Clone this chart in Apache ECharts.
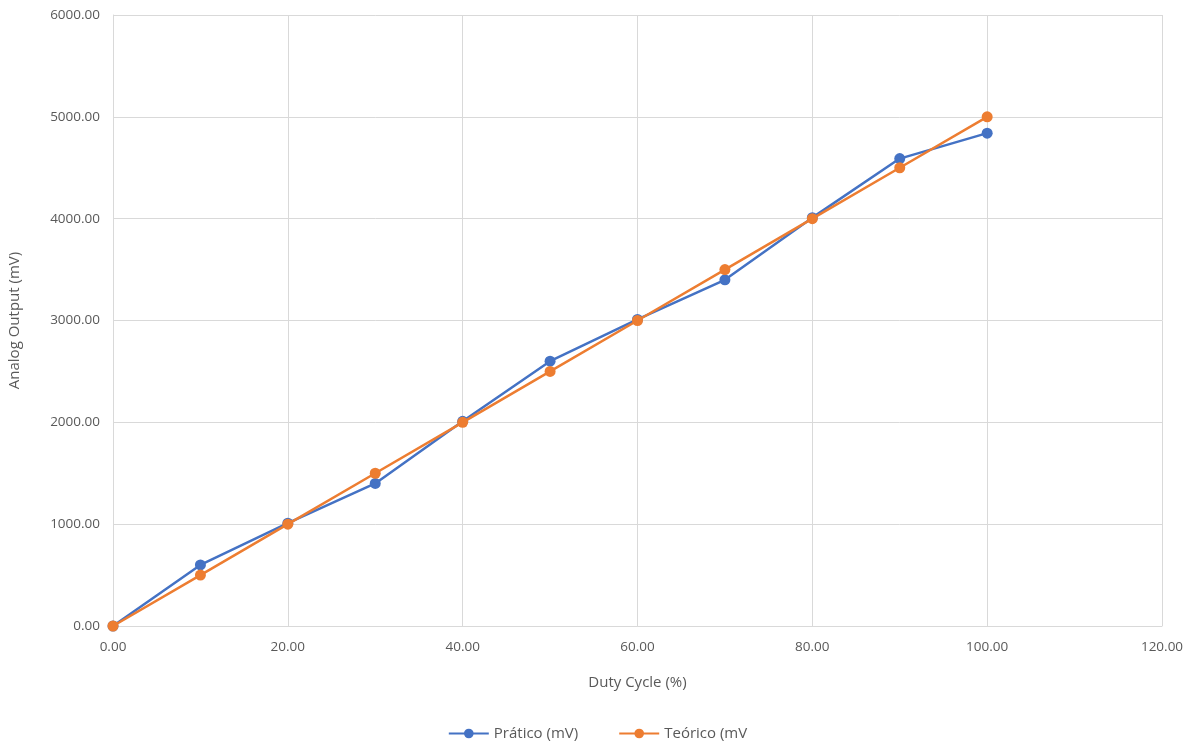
<!DOCTYPE html>
<html>
<head>
<meta charset="utf-8">
<script src="https://cdn.jsdelivr.net/npm/echarts@6/dist/echarts.min.js"></script>
<style>
  html, body { margin: 0; padding: 0; background: #fff; }
  #chart { width: 1195px; height: 747px; }
</style>
</head>
<body>
<div id="chart"></div>
<script>
// Duty cycle (%) vs. analog output (mV)
const dutyCycle = [0, 10, 20, 30, 40, 50, 60, 70, 80, 90, 100];
const pratico   = [0, 600, 1010, 1400, 2010, 2600, 3010, 3400, 4010, 4590, 4840];
const teorico   = [0, 500, 1000, 1500, 2000, 2500, 3000, 3500, 4000, 4500, 5000];
const seriesNames = ['Prático (mV)', 'Teórico (mV'];

const textColor = '#595959';
const gridColor = '#d9d9d9';
const fontFamily = '"Open Sans", "Noto Sans", sans-serif';

const pairs = (xs, ys) => xs.map((x, i) => [x, ys[i]]);

const chart = echarts.init(document.getElementById('chart'));
chart.setOption({
  animation: false,
  textStyle: { fontFamily: fontFamily, color: textColor },
  grid: { left: 113, right: 33, top: 15, bottom: 121, outerBoundsMode: 'none', containLabel: false },
  legend: {
    bottom: 1,
    left: 'center',
    itemGap: 40,
    itemWidth: 40,
    itemHeight: 12,
    textStyle: { color: textColor, fontSize: 15, fontFamily: fontFamily },
    data: seriesNames
  },
  xAxis: {
    type: 'value',
    min: 0, max: 120, interval: 20,
    name: 'Duty Cycle (%)',
    nameLocation: 'middle',
    nameGap: 49,
    nameTextStyle: { color: textColor, fontSize: 15 },
    axisLine: { show: true, lineStyle: { color: gridColor, width: 1 } },
    axisTick: { show: false },
    axisLabel: { color: textColor, fontSize: 13.5, margin: 14, formatter: v => v.toFixed(2) },
    splitLine: { show: true, lineStyle: { color: gridColor, width: 1 } }
  },
  yAxis: {
    type: 'value',
    min: 0, max: 6000, interval: 1000,
    name: 'Analog Output (mV)',
    nameLocation: 'middle',
    nameGap: 91,
    nameTextStyle: { color: textColor, fontSize: 15 },
    axisLine: { show: true, lineStyle: { color: gridColor, width: 1 } },
    axisTick: { show: false },
    axisLabel: { color: textColor, fontSize: 13.5, margin: 13, formatter: v => v.toFixed(2) },
    splitLine: { show: true, lineStyle: { color: gridColor, width: 1 } }
  },
  series: [
    {
      name: seriesNames[0],
      type: 'line',
      data: pairs(dutyCycle, pratico),
      color: '#4472C4',
      symbol: 'circle',
      symbolSize: 11,
      lineStyle: { width: 2.5 },
      z: 2
    },
    {
      name: seriesNames[1],
      type: 'line',
      data: pairs(dutyCycle, teorico),
      color: '#ED7D31',
      symbol: 'circle',
      symbolSize: 11,
      lineStyle: { width: 2.5 },
      z: 3
    }
  ]
});
</script>
</body>
</html>
